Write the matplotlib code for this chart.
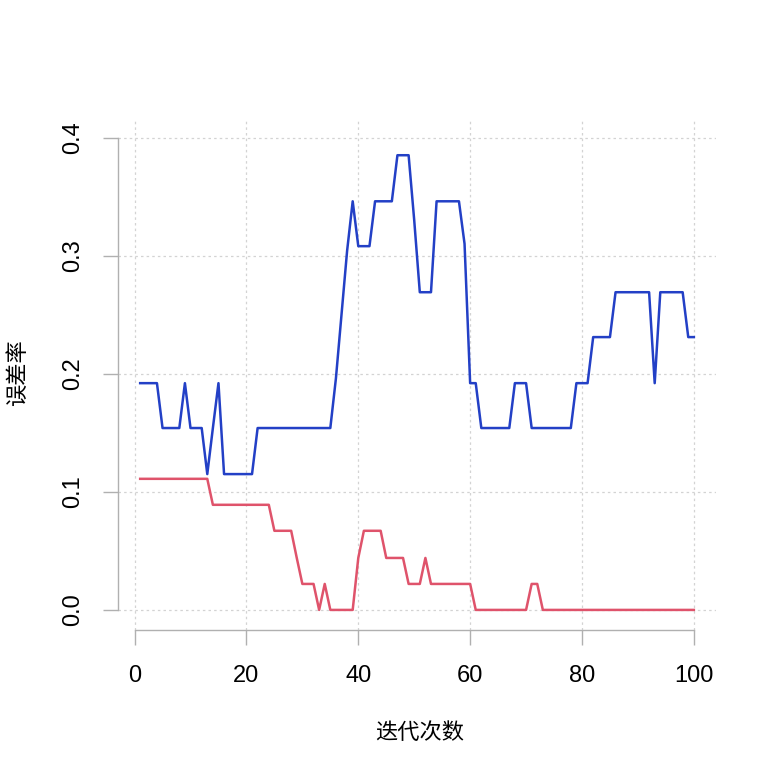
import matplotlib
matplotlib.use('Agg')
import matplotlib.pyplot as plt

plt.rcParams['font.family'] = ['Liberation Sans', 'DejaVu Sans']

# 迭代次数 1..100
iterations = list(range(1, 101))

# 蓝线: 误差率
blue_err = [
    0.192, 0.192, 0.192, 0.192, 0.154, 0.154, 0.154, 0.154, 0.192, 0.154,
    0.154, 0.154, 0.115, 0.154, 0.192, 0.115, 0.115, 0.115, 0.115, 0.115,
    0.115, 0.154, 0.154, 0.154, 0.154, 0.154, 0.154, 0.154, 0.154, 0.154,
    0.154, 0.154, 0.154, 0.154, 0.154, 0.196, 0.250, 0.304, 0.346, 0.308,
    0.308, 0.308, 0.346, 0.346, 0.346, 0.346, 0.385, 0.385, 0.385, 0.330,
    0.269, 0.269, 0.269, 0.346, 0.346, 0.346, 0.346, 0.346, 0.310, 0.192,
    0.192, 0.154, 0.154, 0.154, 0.154, 0.154, 0.154, 0.192, 0.192, 0.192,
    0.154, 0.154, 0.154, 0.154, 0.154, 0.154, 0.154, 0.154, 0.192, 0.192,
    0.192, 0.231, 0.231, 0.231, 0.231, 0.269, 0.269, 0.269, 0.269, 0.269,
    0.269, 0.269, 0.192, 0.269, 0.269, 0.269, 0.269, 0.269, 0.231, 0.231,
]

# 红线: 误差率
red_err = [
    0.111, 0.111, 0.111, 0.111, 0.111, 0.111, 0.111, 0.111, 0.111, 0.111,
    0.111, 0.111, 0.111, 0.089, 0.089, 0.089, 0.089, 0.089, 0.089, 0.089,
    0.089, 0.089, 0.089, 0.089, 0.067, 0.067, 0.067, 0.067, 0.044, 0.022,
    0.022, 0.022, 0.000, 0.022, 0.000, 0.000, 0.000, 0.000, 0.000, 0.044,
    0.067, 0.067, 0.067, 0.067, 0.044, 0.044, 0.044, 0.044, 0.022, 0.022,
    0.022, 0.044, 0.022, 0.022, 0.022, 0.022, 0.022, 0.022, 0.022, 0.022,
    0.000, 0.000, 0.000, 0.000, 0.000, 0.000, 0.000, 0.000, 0.000, 0.000,
    0.022, 0.022, 0.000, 0.000, 0.000, 0.000, 0.000, 0.000, 0.000, 0.000,
    0.000, 0.000, 0.000, 0.000, 0.000, 0.000, 0.000, 0.000, 0.000, 0.000,
    0.000, 0.000, 0.000, 0.000, 0.000, 0.000, 0.000, 0.000, 0.000, 0.000,
]

x_ticks = [0, 20, 40, 60, 80, 100]
y_ticks = [0.0, 0.1, 0.2, 0.3, 0.4]
y_ticklabels = ['0.0', '0.1', '0.2', '0.3', '0.4']

fig = plt.figure(figsize=(7.78, 7.77), dpi=100)
ax = fig.add_axes([0.1517, 0.1892, 0.7686, 0.6551])

ax.plot(iterations, blue_err, color='#2340c6', linewidth=1.8)
ax.plot(iterations, red_err, color='#df536b', linewidth=1.8)

ax.set_xlim(-2.96, 103.96)
ax.set_ylim(-0.017, 0.414)

ax.grid(True, color='#d3d3d3', linestyle=(0, (2, 2.5)), linewidth=0.9)
ax.set_axisbelow(True)

for side in ['top', 'right']:
    ax.spines[side].set_visible(False)
for side in ['left', 'bottom']:
    ax.spines[side].set_color('#b0b0b0')
    ax.spines[side].set_linewidth(1.0)
ax.spines['bottom'].set_bounds(0, 100)
ax.spines['left'].set_bounds(0, 0.4)

ax.set_xticks(x_ticks)
ax.set_xticklabels([str(t) for t in x_ticks], fontsize=17,
                   family=['Liberation Sans Narrow', 'Liberation Sans'])
ax.set_yticks(y_ticks)
ax.set_yticklabels(y_ticklabels, fontsize=17, rotation=90, va='center')
ax.tick_params(axis='both', colors='#b0b0b0', labelcolor='black',
               length=10.5, width=1.0)
ax.tick_params(axis='x', pad=15)
ax.tick_params(axis='y', pad=14)

fig.text(420 / 778, 1 - 732 / 777, '迭代次数', ha='center', va='center',
         fontsize=16, family=['Noto Sans CJK SC', 'DejaVu Sans'])
fig.text(18 / 778, 1 - 373 / 777, '误差率', ha='center', va='center',
         rotation=90, fontsize=16, family=['Noto Sans CJK SC', 'DejaVu Sans'])

fig.savefig('out.png', dpi=100)
